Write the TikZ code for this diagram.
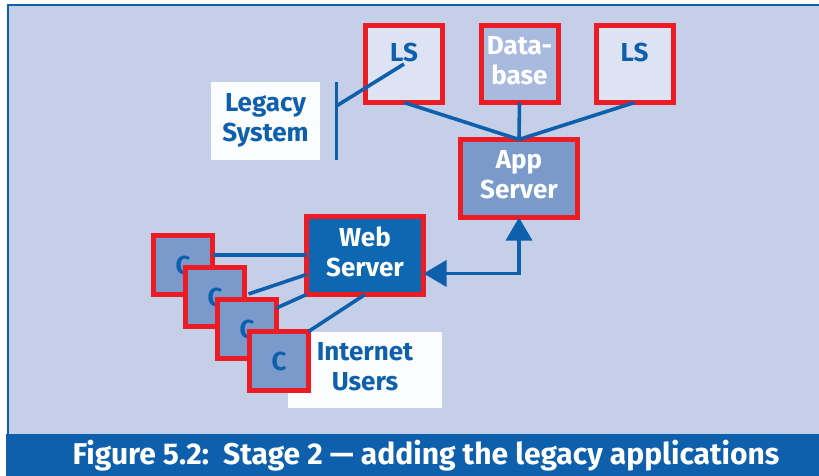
\documentclass[tikz,border=0pt]{standalone}
\usepackage{fontspec}
\setmainfont{Fira Sans}
\newfontfamily\capfont[Ligatures=TeX]{Fira Sans}
\usetikzlibrary{arrows.meta}
\definecolor{figbg}{RGB}{197,207,231}
\definecolor{figblue}{RGB}{14,96,172}
\definecolor{figred}{RGB}{236,28,36}
\definecolor{lsfill}{RGB}{221,227,243}
\definecolor{dbfill}{RGB}{169,186,223}
\definecolor{midfill}{RGB}{122,154,203}
\definecolor{webfill}{RGB}{14,103,177}
\definecolor{tagfill}{RGB}{251,252,254}

\begin{document}
\begin{tikzpicture}[x=0.5pt, y=-0.5pt,
    box/.style={draw=figred, line width=2.5pt, inner sep=0pt, outer sep=0pt,
                align=center, font=\fontsize{13}{15}\selectfont\bfseries},
    bigbox/.style={box, minimum width=58.5pt, minimum height=39pt},
    lsbox/.style={box, minimum width=38.5pt, minimum height=38.5pt},
    cbox/.style={box, fill=midfill, text=figblue, minimum size=29.5pt},
    tag/.style={fill=tagfill, text=figblue, inner sep=0pt, align=center,
                font=\fontsize{13}{15}\selectfont\bfseries},
    wire/.style={figblue, line width=1.8pt},
    arr/.style={wire, {Triangle[length=11.5pt, width=13pt]}-{Triangle[length=11.5pt, width=13pt]}}
  ]
  \useasboundingbox (0,0) rectangle (819,476);
  % frame and caption bar
  \fill[figbg] (8,5) rectangle (819,476);
  \draw[figblue, line width=1.2pt] (8,476) -- (8,5) -- (819,5);
  \fill[figblue] (6,434) rectangle (819,476);
  \node[text=white, font=\capfont\fontsize{15}{16}\selectfont\bfseries] (caption) at (426,456)
    {Figure 5.2:\ \ Stage 2 --- adding the legacy applications};

  % legacy systems and database
  \node[lsbox, fill=lsfill, text=figblue, text depth=12pt] (ls1) at (404,64) {LS};
  \node[lsbox, fill=dbfill, text=white, text depth=4pt] (db) at (519.5,64) {Data-\\base};
  \node[lsbox, fill=lsfill, text=figblue, text depth=12pt] (ls2) at (634.5,64) {LS};
  \node[tag, minimum width=54.5pt, minimum height=39pt, text depth=4pt] (legacy) at (265.5,121) {Legacy\\System};
  \coordinate (brk) at ([xshift=8pt, yshift=7.5pt]legacy.east);
  \draw[wire] ([xshift=8pt]legacy.north east) -- ([xshift=8pt]legacy.south east);
  \draw[wire] (brk) -- (ls1.center);

  % servers
  \node[bigbox, fill=midfill, text=white, text depth=4pt] (app) at (519,178.5) {App\\Server};
  \node[bigbox, fill=webfill, text=white, text depth=4pt] (web) at (365,255.5) {Web\\Server};
  \draw[wire] (ls1.south) -- (app.north);
  \draw[wire] (db.south) -- (app.north);
  \draw[wire] (ls2.south) -- (app.north);
  \draw[arr] ([yshift=-9pt]web.east) -| (app.south);

  % internet users
  \node[tag, minimum width=77pt, minimum height=38pt, text depth=4pt] (users) at (365,370) {Internet\\Users};
  \node[cbox] (c1) at (183,265) {C};
  \node[cbox] (c2) at (215,297) {C};
  \node[cbox] (c3) at (247,329) {C};
  \node[cbox] (c4) at (279,361) {C};
  \draw[wire] ([yshift=5pt]c1.east) -- ([yshift=5pt]c1.east -| web.west);
  \draw[wire] ([xshift=2pt, yshift=1.5pt]c2.east) -- ([yshift=-9.5pt]web.west);
  \draw[wire] ([yshift=10.5pt]c3.east) -- (web.south west);
  \draw[wire] (c4.north east) -- (web.south);
\end{tikzpicture}
\end{document}
